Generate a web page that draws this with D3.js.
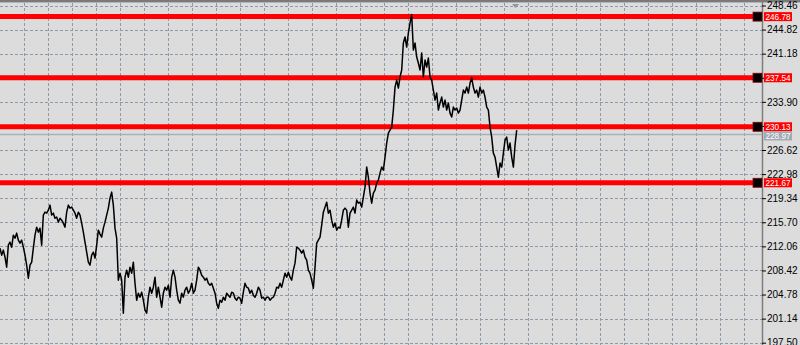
<!DOCTYPE html>
<html>
<head>
<meta charset="utf-8">
<script src="https://cdn.jsdelivr.net/npm/d3@7"></script>
<style>
  body { margin: 0; background: #dcdcdc; }
  svg { display: block; }
</style>
</head>
<body>
<div id="chart"></div>
<script>
// price scale labels on the right
const tickLabels = ["248.46", "244.82", "241.18", "237.54", "233.90", "230.26", "226.62",
  "222.98", "219.34", "215.70", "212.06", "208.42", "204.78", "201.14", "197.50"];

// horizontal levels (red) and the bid line (grey)
const levels = [246.78, 237.54, 230.13, 221.67];
const bid = 228.97;

// close prices
const closes = [
  211.79, 210.73, 211.49, 210.43, 208.91, 212.24, 212.70, 211.94, 213.75, 213.30,
  214.06, 213.00, 212.54, 213.00, 211.94, 210.73, 209.22, 207.25, 209.22, 209.67,
  211.79, 213.75, 214.96, 214.21, 214.81, 212.24, 216.78, 217.23, 217.08, 217.53,
  218.29, 216.78, 217.08, 216.32, 216.48, 215.72, 216.32, 216.02, 215.57, 214.96,
  217.23, 218.29, 217.84, 217.99, 217.53, 217.08, 216.32, 217.23, 216.78, 215.57,
  214.21, 212.70, 211.18, 209.67, 209.22, 210.73, 211.18, 210.28, 212.24, 214.51,
  213.91, 213.45, 214.81, 215.72, 216.78, 217.84, 219.35, 220.26, 218.29, 214.81,
  213.30,
  206.95, 208.01, 206.95, 201.96, 207.40, 208.46, 207.40, 208.91, 208.01, 209.67,
  206.49, 203.92, 204.98, 204.38, 205.13, 203.92, 202.41, 201.96, 204.38, 205.89,
  204.98, 205.89, 207.40, 204.38, 205.89, 204.38, 202.87, 204.98, 205.89, 205.44,
  206.19, 204.38, 207.40, 208.46, 207.40, 205.44, 203.92, 203.47, 204.98, 204.38,
  205.44, 205.89, 204.98, 205.44, 206.49, 204.98, 205.44, 206.95, 208.91, 208.46,
  207.70, 207.40, 206.95, 207.25, 206.49, 206.19, 206.49, 205.74, 204.98, 203.47,
  202.71, 203.92, 203.62, 204.38, 203.92, 204.98, 204.68, 204.38, 205.13, 204.98,
  204.23, 203.92, 204.38, 204.23, 203.47, 205.13, 206.49, 205.89, 205.74, 204.98,
  205.44, 204.68, 204.38, 204.98, 205.89, 205.44, 204.23, 204.38, 203.92, 204.38,
  204.38, 203.92, 204.23, 204.38, 204.98, 205.89, 205.74, 206.49,
  205.89, 206.95, 208.01, 207.40, 208.16, 207.40, 206.95, 208.46, 209.52, 211.94,
  211.79, 211.49, 211.03, 211.49, 210.43, 209.97, 208.46, 208.01, 206.95, 205.74,
  208.91, 212.54, 213.00, 213.45, 215.27, 217.23, 217.99, 218.74, 217.08, 217.53,
  216.02, 214.96, 215.57, 214.51, 214.96, 214.81, 216.02, 217.53, 217.84, 217.53,
  214.96, 217.08, 217.53, 217.99, 217.08, 219.05, 218.59, 218.74, 217.99, 219.50,
  221.01, 224.04, 222.52, 220.11, 218.59, 220.11, 220.56, 221.62, 222.07, 223.13,
  224.04, 223.58, 225.55, 227.67, 229.18, 229.63,
  230.09, 232.66, 236.13, 237.19, 235.98, 237.65, 238.71, 242.79, 243.70, 242.18,
  244.30, 245.81, 247.10, 241.73, 242.79, 240.67, 239.76, 238.71, 241.28, 237.65,
  240.22, 239.16, 240.52, 237.65, 237.19, 235.68, 234.17, 235.23, 232.66, 233.72,
  234.62, 233.11, 234.17, 232.66, 233.72, 232.20, 231.60, 233.11, 232.66, 232.96,
  232.20, 232.66, 234.17, 235.68, 235.23, 236.13, 235.23, 236.74, 237.50, 236.13,
  235.23, 235.68, 234.62, 236.13, 235.23, 235.68, 234.62, 233.11, 232.66, 230.09,
  228.57, 226.15, 225.55, 224.04, 222.52, 224.64, 224.04, 226.15, 228.12, 228.57,
  226.61, 227.67, 225.55, 224.04, 227.36, 229.63
];

const width = 800, height = 345;
const axisX = 762;

const svg = d3.select("#chart")
  .append("svg")
    .attr("width", width)
    .attr("height", height);

svg.append("rect")
  .attr("width", width)
  .attr("height", height)
  .attr("fill", "#dcdcdc");

// scales
const y = d3.scaleLinear()
  .domain([197.50, 248.46])
  .range([342.7, 5.5]);

const x = d3.scaleLinear()
  .domain([0, closes.length - 1])
  .range([0, 516.7]);

const tickValues = tickLabels.map(Number);

// grid
const gridColor = "#8e99aa";
svg.append("g")
  .selectAll("line")
  .data(d3.range(24, axisX, 24))
  .join("line")
    .attr("x1", d => d + 0.5)
    .attr("x2", d => d + 0.5)
    .attr("y1", 3)
    .attr("y2", height)
    .attr("stroke", gridColor)
    .attr("stroke-dasharray", "3,2");

svg.append("g")
  .selectAll("line")
  .data(tickValues)
  .join("line")
    .attr("x1", 0)
    .attr("x2", axisX)
    .attr("y1", d => Math.round(y(d)) + 0.5)
    .attr("y2", d => Math.round(y(d)) + 0.5)
    .attr("stroke", gridColor)
    .attr("stroke-dasharray", "3,2");

// top border
svg.append("line")
  .attr("x1", 0).attr("x2", width)
  .attr("y1", 1).attr("y2", 1)
  .attr("stroke", "#7a7a7a")
  .attr("stroke-width", 2);
svg.append("line")
  .attr("x1", 0).attr("x2", width)
  .attr("y1", 2.5).attr("y2", 2.5)
  .attr("stroke", "#b4b4b4");

// chart shift marker
svg.append("path")
  .attr("d", "M512,4 L519,4 L515.5,8 Z")
  .attr("fill", "#8a96a6");

// right price axis
svg.append("line")
  .attr("x1", axisX + 0.5).attr("x2", axisX + 0.5)
  .attr("y1", 2).attr("y2", height)
  .attr("stroke", "#7d7d7d")
  .attr("stroke-width", 1.5);

// tick labels hidden where a price label sits on top of them
const covered = v => levels.concat([bid]).some(l => Math.abs(y(l) - y(v)) < 7);

const axis = svg.append("g")
  .attr("transform", `translate(${axisX}, 0)`)
  .call(d3.axisRight(y)
    .tickValues(tickValues)
    .tickFormat(d3.format(".2f"))
    .tickSize(4)
    .tickSizeOuter(0));
axis.select(".domain").remove();
axis.selectAll("line").attr("stroke", "#000");
axis.selectAll("text")
  .attr("x", 5)
  .attr("fill", "#000")
  .style("font-family", "'Liberation Sans', Arial, sans-serif")
  .style("font-size", "10px")
  .style("display", d => covered(d) ? "none" : null);

// bid line
svg.append("line")
  .attr("x1", 0).attr("x2", axisX)
  .attr("y1", Math.round(y(bid)) + 0.5)
  .attr("y2", Math.round(y(bid)) + 0.5)
  .attr("stroke", "#a9b0b8")
  .attr("stroke-width", 1.5);

// red levels
svg.append("g")
  .selectAll("line")
  .data(levels)
  .join("line")
    .attr("x1", 0)
    .attr("x2", axisX)
    .attr("y1", d => y(d))
    .attr("y2", d => y(d))
    .attr("stroke", "#ff0000")
    .attr("stroke-width", 5);

// price line
svg.append("path")
  .datum(closes)
  .attr("fill", "none")
  .attr("stroke", "#000")
  .attr("stroke-width", 1.5)
  .attr("stroke-linejoin", "round")
  .attr("d", d3.line()
    .x((d, i) => x(i))
    .y(d => y(d)));

// level anchors
svg.append("g")
  .selectAll("rect")
  .data(levels)
  .join("rect")
    .attr("x", 753)
    .attr("y", d => y(d) - 4.5)
    .attr("width", 9)
    .attr("height", 9)
    .attr("fill", "#000")
    .attr("stroke", "#8b0000")
    .attr("stroke-width", 0.8);

// price labels
function priceLabel(v, cy, bg) {
  const g = svg.append("g");
  g.append("rect")
    .attr("x", 764)
    .attr("y", cy - 4.5)
    .attr("width", 28)
    .attr("height", 9)
    .attr("fill", bg);
  g.append("text")
    .attr("x", 765.5)
    .attr("y", cy)
    .attr("dy", "0.35em")
    .attr("textLength", 25)
    .attr("lengthAdjust", "spacingAndGlyphs")
    .attr("fill", "#fff")
    .style("font-family", "'Liberation Sans', Arial, sans-serif")
    .style("font-size", "9.5px")
    .text(d3.format(".2f")(v));
}

levels.forEach(v => priceLabel(v, y(v), "#ff0000"));
priceLabel(bid, y(bid) + 1.5, "#a2aab4");
</script>
</body>
</html>
